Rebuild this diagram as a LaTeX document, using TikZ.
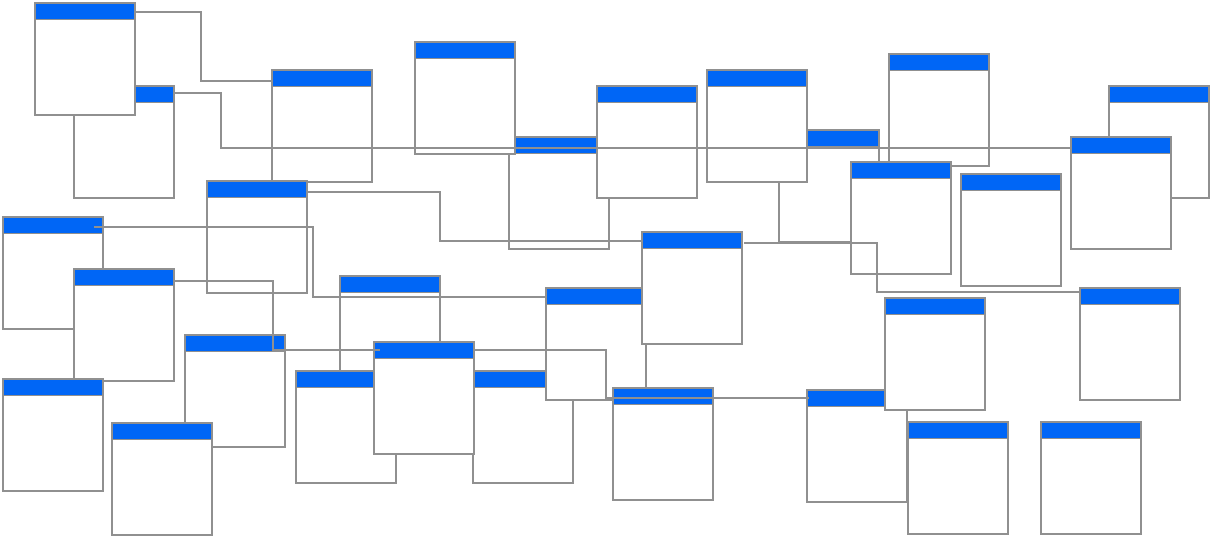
\documentclass[tikz,border=0pt]{standalone}
\definecolor{bordergray}{RGB}{144,144,144}
\definecolor{hdrblue}{RGB}{0,102,246}
\tikzset{
  box/.style={draw=bordergray, line width=1.5pt, fill=white,
    minimum width=100pt, minimum height=112pt, inner sep=0pt, outer sep=0pt,
    path picture={
      \fill[hdrblue] (path picture bounding box.north west) rectangle ([yshift=-16.5pt]path picture bounding box.north east);
      \draw[bordergray, line width=1.5pt] ([yshift=-16.5pt]path picture bounding box.north west) -- ([yshift=-16.5pt]path picture bounding box.north east);
    }},
  link/.style={draw=bordergray, line width=1.3pt}
}
\begin{document}
\begin{tikzpicture}[x=1pt,y=-1pt]
\useasboundingbox (0,0) rectangle (1210,536);
% boxes: center = (left+50, top+56)
\node[box] (b2) at (124,142) {};
\node[box] (b1) at (85,59) {};
\node[box] (b3) at (322,126) {};
\node[box] (b16) at (257,237) {};
\node[box] (b5) at (559,193) {};
\node[box] (b4) at (465,98) {};
\node[box] (b6) at (647,142) {};
\node[box] (b8) at (829,186) {};
\node[box] (b7) at (757,126) {};
\node[box] (b9) at (939,110) {};
\node[box] (b10) at (901,218) {};
\node[box] (b11) at (1011,230) {};
\node[box] (b12) at (1159,142) {};
\node[box] (b13) at (1121,193) {};
\node[box] (b14) at (53,273) {};
\node[box] (b15) at (124,325) {};
\node[box] (b19) at (53,435) {};
\node[box] (b18) at (235,391) {};
\node[box] (b20) at (162,479) {};
\node[box] (b17) at (390,332) {};
\node[box] (b21) at (346,427) {};
\node[box] (b23) at (523,427) {};
\node[box] (b22) at (424,398) {};
\node[box] (b24) at (596,344) {};
\node[box] (b25) at (692,288) {};
\node[box] (b26) at (663,444) {};
\node[box] (b27) at (857,446) {};
\node[box] (b28) at (935,354) {};
\node[box] (b29) at (958,478) {};
\node[box] (b30) at (1091,478) {};
\node[box] (b31) at (1130,344) {};
% connectors
\draw[link] ([yshift=-9pt]b1.north east) -- ++(66,0) |- ([yshift=-11pt]b3.north west);
\draw[link] ([yshift=-7pt]b2.north east) -- ++(47,0) |- ([yshift=-11pt]b13.north west);
\draw[link] ([yshift=-11pt]b16.north east) -- ++(133,0) |- ([xshift=1pt,yshift=-9pt]b25.north west);
\draw[link] ([xshift=-9pt,yshift=-10pt]b14.north east) -- ++(219,0) |- ([yshift=-9pt]b24.north west);
\draw[link] ([yshift=-12pt]b15.north east) -- ++(99,0) |- ([xshift=6pt,yshift=-8pt]b22.north west);
\draw[link] ([yshift=-8pt]b22.north east) -- ++(132,0) |- ([xshift=2pt,yshift=-8pt]b27.north west);
\draw[link] ([xshift=2pt,yshift=-11pt]b25.north east) -- ++(133,0) |- ([yshift=-4pt]b31.north west);
\end{tikzpicture}
\end{document}
